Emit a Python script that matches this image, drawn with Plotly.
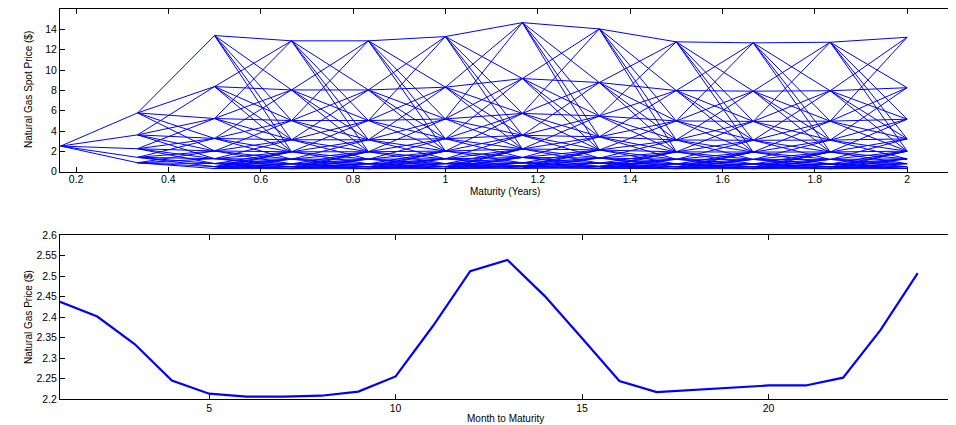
import plotly.graph_objects as go

# ---------------- data ----------------
# Top panel: price tree (nodes listed highest first at each maturity)
maturity_years = [0.1667, 0.3333, 0.5, 0.6667, 0.8333, 1.0, 1.1667, 1.3333, 1.5, 1.6667, 1.8333, 2.0]
node_prices = [
    [2.52],
    [5.78, 3.62, 2.26, 1.41, 0.88],
    [13.39, 8.37, 5.23, 3.27, 2.04, 1.28, 0.80, 0.50, 0.31],
    [12.87, 8.04, 5.03, 3.14, 1.96, 1.23, 0.77, 0.48, 0.30],
    [12.87, 8.04, 5.03, 3.14, 1.96, 1.23, 0.77, 0.48, 0.30],
    [13.29, 8.31, 5.19, 3.24, 2.03, 1.27, 0.79, 0.50, 0.31],
    [14.66, 9.16, 5.73, 3.58, 2.24, 1.40, 0.87, 0.55, 0.34],
    [14.04, 8.77, 5.48, 3.43, 2.14, 1.34, 0.84, 0.52, 0.33],
    [12.77, 7.98, 4.99, 3.12, 1.95, 1.22, 0.76, 0.48, 0.30],
    [12.67, 7.92, 4.95, 3.09, 1.93, 1.21, 0.76, 0.47, 0.30],
    [12.73, 7.96, 4.97, 3.11, 1.94, 1.21, 0.76, 0.47, 0.30],
    [13.22, 8.26, 5.16, 3.23, 2.02, 1.26, 0.79, 0.49, 0.31],
]

# Bottom panel: forward curve
months = list(range(1, 25))
gas_price = [2.437, 2.401, 2.334, 2.245, 2.213, 2.206, 2.206, 2.208, 2.218, 2.255,
             2.378, 2.512, 2.539, 2.451, 2.348, 2.244, 2.217, 2.222, 2.228, 2.233,
             2.233, 2.252, 2.368, 2.507]

top_xticks = [0.2, 0.4, 0.6, 0.8, 1.0, 1.2, 1.4, 1.6, 1.8, 2.0]
top_xticklabels = ["0.2", "0.4", "0.6", "0.8", "1", "1.2", "1.4", "1.6", "1.8", "2"]
top_yticks = [0, 2, 4, 6, 8, 10, 12, 14, 16]
bot_xticks = [5, 10, 15, 20, 25]
bot_yticks = [2.2, 2.25, 2.3, 2.35, 2.4, 2.45, 2.5, 2.55, 2.6]
bot_yticklabels = ["2.2", "2.25", "2.3", "2.35", "2.4", "2.45", "2.5", "2.55", "2.6"]

# ---------------- build tree edges ----------------
ex, ey = [], []
for n in range(len(maturity_years) - 1):
    cur, nxt = node_prices[n], node_prices[n + 1]
    hc, hn = (len(cur) - 1) // 2, (len(nxt) - 1) // 2
    for i, p in enumerate(cur):
        j = hc - i
        lo, hi = j - 2, j + 2
        if hi > hn:
            lo -= hi - hn; hi = hn
        if lo < -hn:
            hi += -hn - lo; lo = -hn
        for k in range(lo, hi + 1):
            q = nxt[hn - k]
            ex += [maturity_years[n], maturity_years[n + 1], None]
            ey += [p, q, None]

font = "Liberation Sans, Arial, Helvetica, sans-serif"
# page body has an 8px margin, so the figure is sized to end at the window edge
W, H = 948, 417
ML, MR, MT, MB = 52, 1, 1, 26
PW, PH = W - ML - MR, H - MT - MB

def dom_x(px0, px1):
    return [(px0 - ML) / PW, (px1 - ML) / PW]

def dom_y(top_px, bot_px):
    return [(H - MB - bot_px) / PH, (H - MB - top_px) / PH]

fig = go.Figure()
fig.add_trace(go.Scatter(x=ex, y=ey, mode="lines", line=dict(color="rgb(0,0,255)", width=1),
                         xaxis="x", yaxis="y", showlegend=False, hoverinfo="skip"))
fig.add_trace(go.Scatter(x=months, y=gas_price, mode="lines", line=dict(color="rgb(0,0,255)", width=2.2),
                         xaxis="x2", yaxis="y2", showlegend=False))

ax_common = dict(showline=True, linecolor="black", linewidth=1, mirror="ticks", ticks="inside",
                 ticklen=5, tickcolor="black", showgrid=False, zeroline=False, automargin=False,
                 tickfont=dict(family=font, size=10.5, color="black"))

fig.update_layout(
    width=W, height=H,
    margin=dict(l=ML, r=MR, t=MT, b=MB, autoexpand=False),
    paper_bgcolor="white", plot_bgcolor="white",
    font=dict(family=font, color="black"),
    xaxis=dict(ax_common, domain=dom_x(52, 945.3), range=[0.1653, 2.1], tickvals=top_xticks,
               ticktext=top_xticklabels, anchor="y", ticklabelstandoff=-2),
    yaxis=dict(ax_common, domain=dom_y(1, 163.7), range=[0, 16], tickvals=top_yticks, anchor="x"),
    xaxis2=dict(ax_common, domain=dom_x(52, 947), range=[1, 25], tickvals=bot_xticks, anchor="y2",
                ticklabelstandoff=-1),
    yaxis2=dict(ax_common, domain=dom_y(227, 391), range=[2.2, 2.6], tickvals=bot_yticks,
                ticktext=bot_yticklabels, anchor="x2"),
)

def px_to_paper_x(px):
    return (px - ML) / PW

def px_to_paper_y(py):
    return (H - MB - py) / PH

titles = [
    ("Maturity (Years)", 497, 183, 0),
    ("Month to Maturity", 497, 410, 0),
    ("Natural Gas Spot Price ($)", 20, 82, -90),
    ("Natural Gas Price ($)", 20, 309, -90),
]
for text, x, y, ang in titles:
    fig.add_annotation(text=text, x=px_to_paper_x(x), y=px_to_paper_y(y), xref="paper", yref="paper",
                       showarrow=False, textangle=ang, xanchor="center", yanchor="middle",
                       font=dict(family=font, size=10, color="black"))

fig.write_html("out.html")
